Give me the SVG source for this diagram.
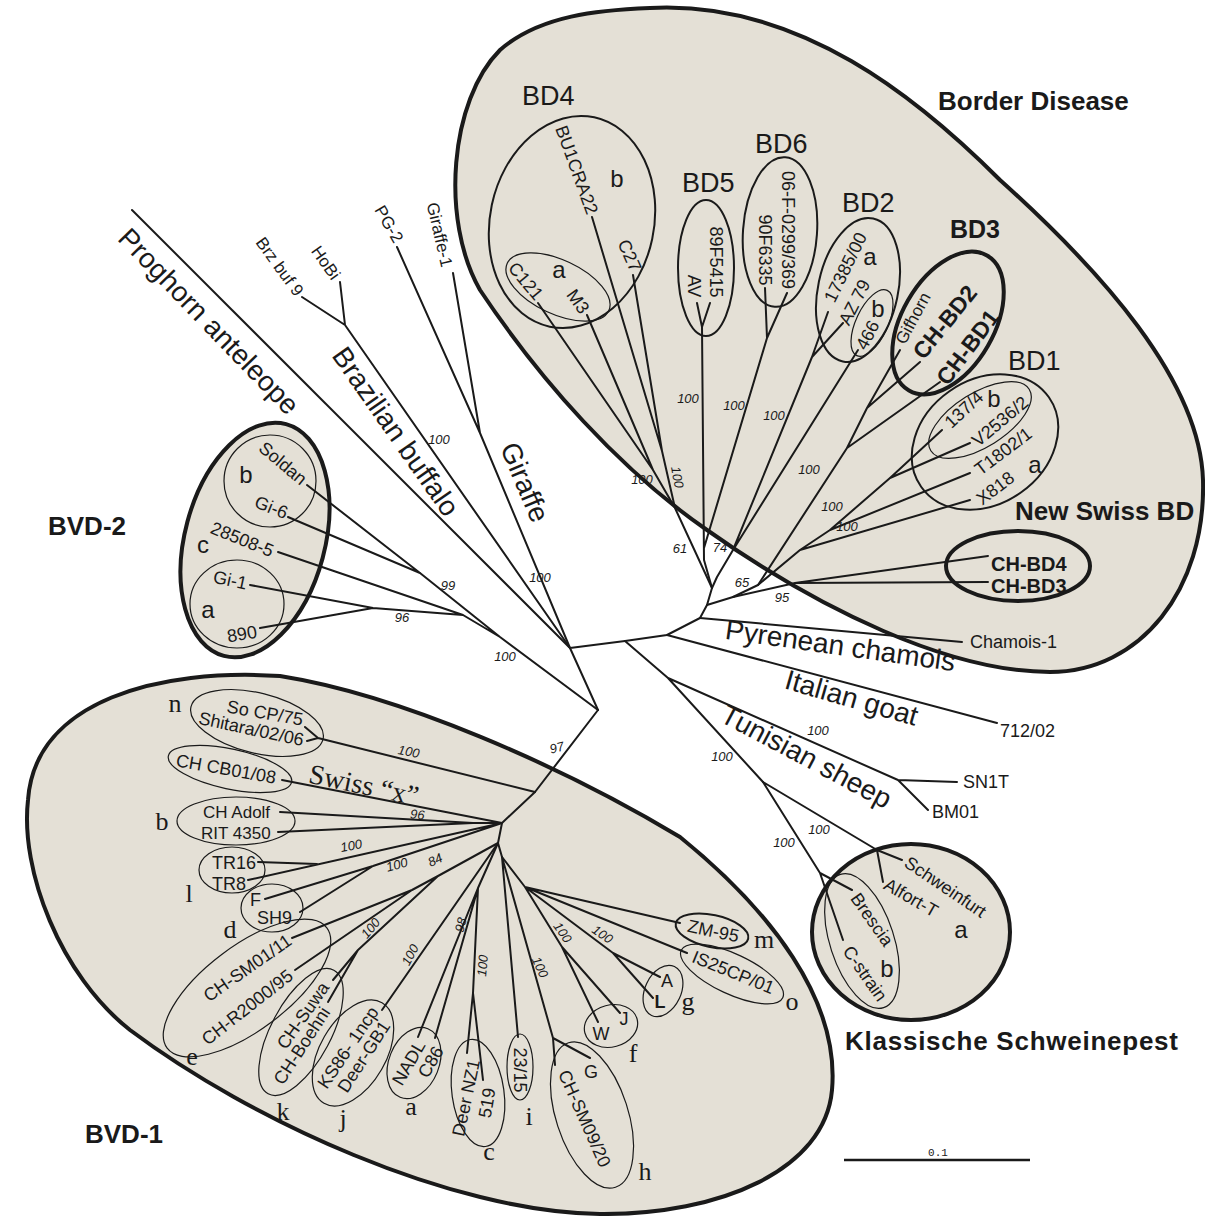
<svg xmlns="http://www.w3.org/2000/svg" width="1205" height="1216" viewBox="0 0 1205 1216">
<style>
.br{stroke:#1a1a1a;stroke-width:2;fill:none;stroke-linecap:round;stroke-linejoin:round}
.grp{fill:#e4e0d6;stroke:#1a1a1a;stroke-width:4}
.sub{fill:none;stroke:#1a1a1a;stroke-width:2}
.thin{fill:none;stroke:#1a1a1a;stroke-width:1.2}
.bold{fill:none;stroke:#1a1a1a;stroke-width:4}
text{font-family:"Liberation Sans",Arial,sans-serif;fill:#1a1a1a}
.lf{font-size:18px}
.bs{font-size:13px;font-style:italic}
.big{font-size:28px}
.hd{font-size:26px;font-weight:bold}
.bd{font-size:27px}
.sl{font-size:24px}
.sr{font-family:"Liberation Serif","Times New Roman",serif;font-size:26px}
.lb{font-size:23px;font-weight:bold}
</style>
<rect width="1205" height="1216" fill="#ffffff"/>

<!-- group backgrounds -->
<g id="grp-border-disease">
<path class="grp" d="M650,8 C800,0 920,100 1000,180 C1100,270 1200,380 1203,480 C1206,590 1140,672 1050,672 C950,672 820,610 707,530 C620,470 540,380 480,290 C440,220 450,100 500,50 C540,15 600,10 650,8 Z"/>
<text class="hd" x="938" y="110">Border Disease</text>
</g>
<g id="grp-bvd1">
<path class="grp" d="M28,800 C35,700 160,668 280,676 C400,695 560,765 680,837 C770,910 840,1000 832,1090 C825,1170 720,1215 600,1214 C450,1212 250,1120 130,1030 C60,975 20,870 28,800 Z"/>
<text class="hd" x="85" y="1143">BVD-1</text>
</g>
<g id="grp-bvd2">
<ellipse class="grp" cx="255" cy="540" rx="70" ry="120" transform="rotate(15 255 540)"/>
<text class="hd" x="48" y="535">BVD-2</text>
</g>
<g id="grp-ksp">
<ellipse class="grp" cx="911" cy="932" rx="99" ry="88"/>
<text class="hd" x="845" y="1050" textLength="333">Klassische Schweinepest</text>
</g>

<!-- connectors -->
<g id="connectors" class="br">
<path d="M132,210 L570,648"/>
<path d="M345,325 L570,648 M302,297 L345,325 M340,282 L345,325"/>
<path d="M480,433 L570,648 M397,247 L480,433 M453,273 L480,433"/>
<path d="M307,485 L420,573 L500,637 L598,710 M288,517 L420,573 M278,552 L463,615 L500,637 M250,585 L373,608 L463,615 M260,628 L373,608"/>
<path d="M570,648 L598,710 M570,648 L625,641 L667,635 L700,618 L707,605"/>
<path d="M625,641 L668,678 L763,782 M668,678 L898,780 L957,782 M898,780 L928,810"/>
<path d="M763,782 L877,850 L902,860 M877,850 L883,882 M763,782 L820,873 L852,890 M820,873 L843,940"/>
<path d="M667,635 L997,723 M700,618 L962,642"/>
<path d="M707,605 L712,588 M707,605 L733,597"/>
<path d="M712,588 L675,508 L653,470 L538,303 M653,470 L587,315 M675,508 L662,451 L592,217 M662,451 L633,275"/>
<path d="M712,588 L704,560 L702,327 L697,303 M702,327 L710,303 M704,548 L767,338 L765,288 M767,338 L787,293"/>
<path d="M712,588 L717,577 L733,550 L812,357 L828,312 M812,357 L843,323 M733,550 L858,350"/>
<path d="M733,597 L758,585 L847,448 L867,408 L900,350 M867,408 L920,362 M847,448 L940,382"/>
<path d="M758,585 L800,550 L970,500 M800,550 L830,530 L970,473 M830,530 L890,478 L942,430 M890,478 L970,443"/>
<path d="M733,597 L795,583 L988,556 M795,583 L988,582"/>
<path d="M598,710 L535,792 L502,823 L498,843 L502,857"/>
<path d="M535,792 L318,738 L305,727 M318,738 L307,741"/>
<path d="M502,823 L282,780 M502,823 L473,823 L280,812 M473,823 L278,832"/>
<path d="M502,823 L248,880 M317,864 L258,862 M502,823 L373,866 L265,899 M373,866 L300,912"/>
<path d="M498,843 L438,876 L412,890 L292,938 M412,890 L295,970 M438,876 L358,950 L333,980 M358,950 L328,1002"/>
<path d="M498,843 L382,1010"/>
<path d="M498,843 L478,888 L418,1037 M478,888 L435,1038 M478,888 L473,993 L467,1053 M473,993 L483,1080"/>
<path d="M502,857 L518,1037 M502,857 L553,1038 L555,1065 M553,1038 L590,1058"/>
<path d="M502,857 L525,887 L680,923 M525,887 L687,953 M525,887 L613,953 L660,977 M613,953 L653,998 M525,887 L562,947 L598,1022 M562,947 L620,1013"/>
</g>

<!-- bootstrap values -->
<g id="support" class="bs">
<text x="642" y="484" text-anchor="middle">100</text>
<text transform="translate(673,478) rotate(80)" text-anchor="middle">100</text>
<text x="680" y="553" text-anchor="middle">61</text>
<text x="720" y="552" text-anchor="middle">74</text>
<text x="688" y="403" text-anchor="middle">100</text>
<text x="734" y="410" text-anchor="middle">100</text>
<text x="774" y="420" text-anchor="middle">100</text>
<text x="809" y="474" text-anchor="middle">100</text>
<text x="832" y="511" text-anchor="middle">100</text>
<text x="847" y="531" text-anchor="middle">100</text>
<text x="742" y="587" text-anchor="middle">65</text>
<text x="782" y="602" text-anchor="middle">95</text>
<text x="448" y="590" text-anchor="middle">99</text>
<text x="402" y="622" text-anchor="middle">96</text>
<text x="439" y="444" text-anchor="middle">100</text>
<text x="505" y="661" text-anchor="middle">100</text>
<text x="540" y="582" text-anchor="middle">100</text>
<text x="818" y="735" text-anchor="middle">100</text>
<text x="722" y="761" text-anchor="middle">100</text>
<text x="819" y="834" text-anchor="middle">100</text>
<text x="784" y="847" text-anchor="middle">100</text>
<text transform="translate(558,752) rotate(-15)" text-anchor="middle">97</text>
<text transform="translate(408,756) rotate(10)" text-anchor="middle">100</text>
<text transform="translate(417,819) rotate(5)" text-anchor="middle">96</text>
<text transform="translate(352,850) rotate(-10)" text-anchor="middle">100</text>
<text transform="translate(398,869) rotate(-15)" text-anchor="middle">100</text>
<text transform="translate(437,864) rotate(-25)" text-anchor="middle">84</text>
<text transform="translate(374,931) rotate(-50)" text-anchor="middle">100</text>
<text transform="translate(414,957) rotate(-62)" text-anchor="middle">100</text>
<text transform="translate(465,926) rotate(-75)" text-anchor="middle">98</text>
<text transform="translate(487,966) rotate(-85)" text-anchor="middle">100</text>
<text transform="translate(536,969) rotate(65)" text-anchor="middle">100</text>
<text transform="translate(559,935) rotate(55)" text-anchor="middle">100</text>
<text transform="translate(600,938) rotate(35)" text-anchor="middle">100</text>
</g>

<!-- outgroup / lineage labels -->
<g id="lineage-labels" class="big">
<text transform="translate(202,328) rotate(46)" text-anchor="middle">Proghorn anteleope</text>
<text transform="translate(388,437) rotate(55)" text-anchor="middle">Brazilian buffalo</text>
<text transform="translate(516,486) rotate(67)" text-anchor="middle">Giraffe</text>
<text transform="translate(839,655) rotate(8)" text-anchor="middle">Pyrenean chamois</text>
<text transform="translate(849,707) rotate(16)" text-anchor="middle">Italian goat</text>
<text transform="translate(802,765) rotate(28)" text-anchor="middle">Tunisian sheep</text>
</g>

<!-- left outgroup leaves -->
<g id="node-brzbuf9"><text transform="translate(275,270) rotate(54)" text-anchor="middle" style="font-size:17px">Brz buf 9</text></g>
<g id="node-hobi"><text transform="translate(321,266) rotate(55)" text-anchor="middle" style="font-size:17px">HoBi</text></g>
<g id="node-pg2"><text transform="translate(384,227) rotate(60)" text-anchor="middle" style="font-size:17px">PG-2</text></g>
<g id="node-giraffe1"><text transform="translate(434,236) rotate(77)" text-anchor="middle" style="font-size:17px">Giraffe-1</text></g>
<g id="node-chamois1"><text class="lf" x="970" y="648">Chamois-1</text></g>
<g id="node-712"><text class="lf" x="1000" y="737">712/02</text></g>
<g id="node-sn1t"><text class="lf" x="963" y="788">SN1T</text></g>
<g id="node-bm01"><text class="lf" x="932" y="818">BM01</text></g>

<!-- Border disease subgroups -->
<g id="node-bd4">
<ellipse class="sub" cx="572" cy="222" rx="82" ry="107" transform="rotate(12 572 222)"/>
<ellipse class="thin" cx="558" cy="287" rx="56" ry="27" transform="rotate(25 558 287)"/>
<text class="bd" x="522" y="105">BD4</text>
<text class="sl" x="617" y="187" text-anchor="middle">b</text>
<text class="sl" x="559" y="278" text-anchor="middle">a</text>
<text class="lf" transform="translate(571,172) rotate(70)" text-anchor="middle">BU1CRA22</text>
<text class="lf" transform="translate(624,258) rotate(66)" text-anchor="middle">C27</text>
<text class="lf" transform="translate(521,285) rotate(50)" text-anchor="middle">C121</text>
<text class="lf" transform="translate(573,305) rotate(55)" text-anchor="middle">M3</text>
</g>
<g id="node-bd5">
<ellipse class="sub" cx="706" cy="268" rx="28" ry="68"/>
<text class="bd" x="682" y="192">BD5</text>
<text class="lf" transform="translate(710,262) rotate(90)" text-anchor="middle">89F5415</text>
<text class="lf" transform="translate(688,286) rotate(90)" text-anchor="middle">AV</text>
</g>
<g id="node-bd6">
<ellipse class="sub" cx="780" cy="232" rx="37" ry="75" transform="rotate(4 780 232)"/>
<text class="bd" x="755" y="153">BD6</text>
<text class="lf" transform="translate(782,230) rotate(90)" text-anchor="middle">06-F-0299/369</text>
<text class="lf" transform="translate(759,250) rotate(90)" text-anchor="middle">90F6335</text>
</g>
<g id="node-bd2">
<ellipse class="sub" cx="858" cy="290" rx="40" ry="73" transform="rotate(12 858 290)"/>
<ellipse class="thin" cx="872" cy="323" rx="16" ry="36" transform="rotate(25 872 323)"/>
<text class="bd" x="842" y="212">BD2</text>
<text class="sl" x="870" y="265" text-anchor="middle">a</text>
<text class="sl" x="878" y="317" text-anchor="middle">b</text>
<text class="lf" transform="translate(851,270) rotate(-64)" text-anchor="middle">17385/00</text>
<text class="lf" transform="translate(860,305) rotate(-63)" text-anchor="middle">AZ 79</text>
<text class="lf" transform="translate(873,338) rotate(-62)" text-anchor="middle">466</text>
</g>
<g id="node-bd3">
<ellipse class="bold" cx="948" cy="323" rx="46" ry="78" transform="rotate(30 948 323)"/>
<text x="950" y="238" style="font-size:25px;font-weight:bold">BD3</text>
<text transform="translate(918,321) rotate(-62)" text-anchor="middle" style="font-size:17px">Gifhorn</text>
<text class="lb" transform="translate(951,327) rotate(-51)" text-anchor="middle">CH-BD2</text>
<text class="lb" transform="translate(974,352) rotate(-53)" text-anchor="middle">CH-BD1</text>
</g>
<g id="node-bd1">
<ellipse class="sub" cx="985" cy="442" rx="78" ry="62" transform="rotate(-35 985 442)"/>
<ellipse class="thin" cx="980" cy="420" rx="58" ry="27" transform="rotate(-32 980 420)"/>
<text class="bd" x="1008" y="370">BD1</text>
<text class="sl" x="994" y="407" text-anchor="middle">b</text>
<text class="sl" x="1035" y="473" text-anchor="middle">a</text>
<text class="lf" transform="translate(968,414) rotate(-43)" text-anchor="middle">137/4</text>
<text class="lf" transform="translate(1004,426) rotate(-40)" text-anchor="middle">V2536/2</text>
<text class="lf" transform="translate(1007,456) rotate(-37)" text-anchor="middle">T1802/1</text>
<text class="lf" transform="translate(999,493) rotate(-37)" text-anchor="middle">X818</text>
</g>
<g id="node-newswiss">
<ellipse class="bold" cx="1018" cy="566" rx="72" ry="35"/>
<text class="hd" x="1015" y="520">New Swiss BD</text>
<text x="991" y="571" style="font-size:20px;font-weight:bold">CH-BD4</text>
<text x="991" y="593" style="font-size:20px;font-weight:bold">CH-BD3</text>
</g>

<!-- BVD-2 subgroups -->
<g id="node-bvd2">
<circle class="thin" cx="270" cy="481" r="46"/>
<ellipse class="thin" cx="237" cy="604" rx="47" ry="44"/>
<text class="sl" x="246" y="483" text-anchor="middle">b</text>
<text class="sl" x="203" y="553" text-anchor="middle">c</text>
<text class="sl" x="208" y="618" text-anchor="middle">a</text>
<text class="lf" transform="translate(279,468) rotate(40)" text-anchor="middle">Soldan</text>
<text class="lf" transform="translate(269,513) rotate(22)" text-anchor="middle">Gi-6</text>
<text class="lf" transform="translate(240,545) rotate(22)" text-anchor="middle">28508-5</text>
<text class="lf" transform="translate(229,586) rotate(12)" text-anchor="middle">Gi-1</text>
<text class="lf" transform="translate(243,640) rotate(-10)" text-anchor="middle">890</text>
</g>

<!-- KSP subgroups -->
<g id="node-ksp">
<ellipse class="thin" cx="862" cy="941" rx="32" ry="70" transform="rotate(-18 862 941)"/>
<text class="sl" x="961" y="938" text-anchor="middle">a</text>
<text class="sl" x="887" y="977" text-anchor="middle">b</text>
<text class="lf" transform="translate(942,892) rotate(34)" text-anchor="middle">Schweinfurt</text>
<text class="lf" transform="translate(908,903) rotate(30)" text-anchor="middle">Alfort-T</text>
<text class="lf" transform="translate(867,923) rotate(55)" text-anchor="middle">Brescia</text>
<text class="lf" transform="translate(860,977) rotate(55)" text-anchor="middle">C-strain</text>
</g>

<!-- BVD-1 subgroups -->
<g id="node-bvd1-n">
<ellipse class="thin" cx="257" cy="723" rx="68" ry="30" transform="rotate(14 257 723)"/>
<text class="sr" x="175" y="712" text-anchor="middle">n</text>
<text class="lf" transform="translate(264,719) rotate(10)" text-anchor="middle">So CP/75</text>
<text class="lf" transform="translate(250,735) rotate(12)" text-anchor="middle">Shitara/02/06</text>
</g>
<g id="node-bvd1-x">
<ellipse class="thin" cx="230" cy="769" rx="63" ry="20" transform="rotate(12 230 769)"/>
<text class="lf" transform="translate(225,775) rotate(10)" text-anchor="middle">CH CB01/08</text>
<text class="sr" transform="translate(362,794) rotate(12)" text-anchor="middle" style="font-size:28px">Swiss “x”</text>
</g>
<g id="node-bvd1-b">
<ellipse class="thin" cx="236" cy="821" rx="59" ry="24"/>
<text class="sr" x="162" y="830" text-anchor="middle">b</text>
<text x="203" y="818" style="font-size:17px">CH Adolf</text>
<text x="201" y="839" style="font-size:17px">RIT 4350</text>
</g>
<g id="node-bvd1-l">
<ellipse class="thin" cx="232" cy="870" rx="33" ry="23"/>
<text class="sr" x="189" y="902" text-anchor="middle">l</text>
<text class="lf" x="212" y="869">TR16</text>
<text class="lf" x="212" y="890">TR8</text>
</g>
<g id="node-bvd1-d">
<ellipse class="thin" cx="272" cy="908" rx="31" ry="24"/>
<text class="sr" x="230" y="938" text-anchor="middle">d</text>
<text class="lf" x="250" y="906">F</text>
<text class="lf" x="257" y="924">SH9</text>
</g>
<g id="node-bvd1-e">
<ellipse class="thin" cx="247" cy="988" rx="100" ry="42" transform="rotate(-37 247 988)"/>
<text class="sr" x="192" y="1065" text-anchor="middle">e</text>
<text class="lf" transform="translate(251,973) rotate(-35)" text-anchor="middle">CH-SM01/11</text>
<text class="lf" transform="translate(251,1012) rotate(-38)" text-anchor="middle">CH-R2000/95</text>
</g>
<g id="node-bvd1-k">
<ellipse class="thin" cx="301" cy="1032" rx="70" ry="30" transform="rotate(-62 301 1032)"/>
<text class="sr" x="283" y="1120" text-anchor="middle">k</text>
<text class="lf" transform="translate(308,1019) rotate(-55)" text-anchor="middle">CH-Suwa</text>
<text class="lf" transform="translate(307,1049) rotate(-57)" text-anchor="middle">CH-Boehni</text>
</g>
<g id="node-bvd1-j">
<ellipse class="thin" cx="353" cy="1053" rx="58" ry="33" transform="rotate(-60 353 1053)"/>
<text class="sr" x="343" y="1127" text-anchor="middle">j</text>
<text class="lf" transform="translate(353,1051) rotate(-56)" text-anchor="middle">KS86- 1ncp</text>
<text class="lf" transform="translate(369,1060) rotate(-57)" text-anchor="middle">Deer-GB1</text>
</g>
<g id="node-bvd1-a">
<ellipse class="thin" cx="414" cy="1063" rx="25" ry="37" transform="rotate(22 414 1063)"/>
<text class="sr" x="411" y="1115" text-anchor="middle">a</text>
<text class="lf" transform="translate(414,1066) rotate(-60)" text-anchor="middle">NADL</text>
<text class="lf" transform="translate(436,1065) rotate(-60)" text-anchor="middle">C86</text>
</g>
<g id="node-bvd1-c">
<ellipse class="thin" cx="478" cy="1093" rx="26" ry="54" transform="rotate(-8 478 1093)"/>
<text class="sr" x="489" y="1160" text-anchor="middle">c</text>
<text class="lf" transform="translate(472,1099) rotate(-78)" text-anchor="middle">Deer NZ1</text>
<text class="lf" transform="translate(493,1104) rotate(-80)" text-anchor="middle">519</text>
</g>
<g id="node-bvd1-i">
<ellipse class="thin" cx="520" cy="1067" rx="13" ry="33"/>
<text class="sr" x="529" y="1125" text-anchor="middle">i</text>
<text class="lf" transform="translate(514,1070) rotate(90)" text-anchor="middle">23/15</text>
</g>
<g id="node-bvd1-h">
<ellipse class="thin" cx="592" cy="1115" rx="36" ry="76" transform="rotate(-18 592 1115)"/>
<text class="sr" x="645" y="1180" text-anchor="middle">h</text>
<text class="lf" transform="translate(579,1121) rotate(66)" text-anchor="middle">CH-SM09/20</text>
<text class="lf" x="591" y="1078" text-anchor="middle">G</text>
</g>
<g id="node-bvd1-f">
<ellipse class="thin" cx="611" cy="1026" rx="27" ry="21" transform="rotate(-15 611 1026)"/>
<text class="sr" x="633" y="1062" text-anchor="middle">f</text>
<text class="lf" x="601" y="1040" text-anchor="middle">W</text>
<text class="lf" x="624" y="1025" text-anchor="middle">J</text>
</g>
<g id="node-bvd1-g">
<ellipse class="thin" cx="663" cy="991" rx="18" ry="27" transform="rotate(25 663 991)"/>
<text class="sr" x="688" y="1010" text-anchor="middle">g</text>
<text class="lf" x="667" y="987" text-anchor="middle">A</text>
<text class="lf" x="660" y="1008" text-anchor="middle" font-weight="bold">L</text>
</g>
<g id="node-bvd1-m">
<ellipse class="sub" cx="712" cy="931" rx="37" ry="16" transform="rotate(12 712 931)"/>
<text class="sr" x="764" y="948" text-anchor="middle">m</text>
<text class="lf" transform="translate(712,937) rotate(12)" text-anchor="middle">ZM-95</text>
</g>
<g id="node-bvd1-o">
<ellipse class="thin" cx="732" cy="974" rx="56" ry="20" transform="rotate(25 732 974)"/>
<text class="sr" x="792" y="1010" text-anchor="middle">o</text>
<text class="lf" transform="translate(731,978) rotate(22)" text-anchor="middle">IS25CP/01</text>
</g>

<!-- scale bar -->
<g id="scale">
<line x1="844" y1="1160" x2="1030" y2="1160" stroke="#1a1a1a" stroke-width="2.5"/>
<text x="938" y="1156" text-anchor="middle" style="font-family:'Liberation Mono',monospace;font-size:11px">0.1</text>
</g>
</svg>
